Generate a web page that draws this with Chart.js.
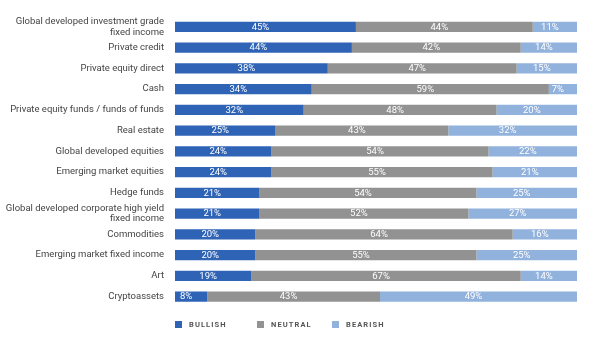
<!DOCTYPE html>
<html><head><meta charset="utf-8">
<script src="https://cdn.jsdelivr.net/npm/chart.js@4/dist/chart.umd.min.js"></script>
<style>html,body{margin:0;padding:0;background:#fff}#wrap{width:600px;height:356px;position:relative}</style>
</head><body><div id="wrap"><canvas id="c"></canvas></div>
<script>
const categories = [
  ["Global developed investment grade", "fixed income"],
  "Private credit",
  "Private equity direct",
  "Cash",
  "Private equity funds / funds of funds",
  "Real estate",
  "Global developed equities",
  "Emerging market equities",
  "Hedge funds",
  ["Global developed corporate high yield", "fixed income"],
  "Commodities",
  "Emerging market fixed income",
  "Art",
  "Cryptoassets"
];
const bullish = [45, 44, 38, 34, 32, 25, 24, 24, 21, 21, 20, 20, 19, 8];
const neutral = [44, 42, 47, 59, 48, 43, 54, 55, 54, 52, 64, 55, 67, 43];
const bearish = [11, 14, 15, 7, 20, 32, 22, 21, 25, 27, 16, 25, 14, 49];
const seriesNames = ["BULLISH", "NEUTRAL", "BEARISH"];
const seriesColors = ["#2e63b6", "#929292", "#91b2dd"];

const FONT = "Roboto, 'Liberation Sans', sans-serif";

const valueLabels = {
  id: 'valueLabels',
  afterDatasetsDraw(chart) {
    const ctx = chart.ctx;
    ctx.save();
    ctx.font = "9.5px " + FONT;
    ctx.fillStyle = "#ffffff";
    ctx.textAlign = "center";
    ctx.textBaseline = "middle";
    chart.data.datasets.forEach((ds, di) => {
      const meta = chart.getDatasetMeta(di);
      meta.data.forEach((el, i) => {
        const left = Math.min(el.x, el.base), right = Math.max(el.x, el.base);
        const w = ctx.measureText(ds.data[i] + "%").width;
        let cx = (left + right) / 2 - 5;
        if (cx - w / 2 < left + 1) cx = left + 1 + w / 2;
        ctx.fillText(ds.data[i] + "%", cx, el.y + 0.5);
      });
    });
    ctx.restore();
  }
};

const customLegend = {
  id: 'customLegend',
  afterDraw(chart) {
    const ctx = chart.ctx;
    ctx.save();
    ctx.font = "bold 7.5px " + FONT;
    try { ctx.letterSpacing = "1.1px"; } catch (e) {}
    ctx.textBaseline = "middle";
    ctx.textAlign = "left";
    const y = 324.5;
    const starts = [175, 257, 332];
    chart.data.datasets.forEach((ds, i) => {
      const x = starts[i];
      ctx.fillStyle = ds.backgroundColor;
      ctx.fillRect(x, y - 3.5, 7, 7);
      ctx.fillStyle = "#555555";
      ctx.fillText(ds.label, x + 14, y + 0.5);
    });
    ctx.restore();
  }
};

new Chart(document.getElementById('c'), {
  type: 'bar',
  data: {
    labels: categories,
    datasets: [
      { label: seriesNames[0], data: bullish, backgroundColor: seriesColors[0] },
      { label: seriesNames[1], data: neutral, backgroundColor: seriesColors[1] },
      { label: seriesNames[2], data: bearish, backgroundColor: seriesColors[2] }
    ]
  },
  options: {
    indexAxis: 'y',
    responsive: true,
    maintainAspectRatio: false,
    animation: false,
    devicePixelRatio: 1,
    layout: { padding: { top: 9, right: 23, bottom: 49, left: 0 } },
    datasets: { bar: { barPercentage: 0.5, categoryPercentage: 1, borderWidth: 0 } },
    plugins: { legend: { display: false }, tooltip: { enabled: false } },
    scales: {
      x: { stacked: true, min: 0, max: 100, display: false },
      y: {
        stacked: true,
        grid: { display: false, drawTicks: false },
        border: { display: false },
        ticks: { autoSkip: false, color: "#444444", padding: 11, font: { family: FONT, size: 9.5, lineHeight: 1.15 } },
        afterFit(scale) { scale.width = 175; }
      }
    }
  },
  plugins: [valueLabels, customLegend]
});
</script>
</body></html>
